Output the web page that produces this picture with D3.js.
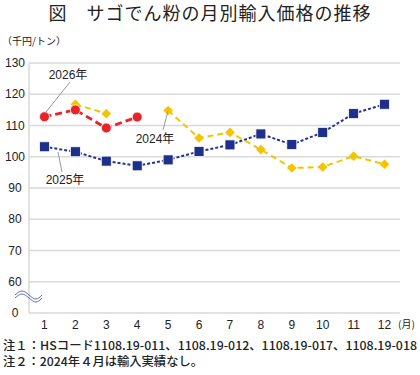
<!DOCTYPE html>
<html>
<head>
<meta charset="utf-8">
<script src="https://cdn.jsdelivr.net/npm/d3@7"></script>
<style>
body { margin: 0; background: #fff; }
text { font-family: "Liberation Sans", "Noto Sans CJK JP", sans-serif; fill: #222; }
.jp { font-family: "Noto Sans CJK JP", sans-serif; }
</style>
</head>
<body>
<div id="chart"></div>
<script>
var months = ["1", "2", "3", "4", "5", "6", "7", "8", "9", "10", "11", "12"];
var yTicks = [50, 60, 70, 80, 90, 100, 110, 120, 130];
var yTickLabels = ["0", "60", "70", "80", "90", "100", "110", "120", "130"];

var y2024 = [null, 116.8, 113.8, null, 114.8, 106.0, 107.8, 102.3, 96.4, 96.7, 100.2, 97.6];
var y2025 = [103.2, 101.6, 98.6, 97.1, 99.0, 101.7, 103.8, 107.3, 103.9, 107.8, 113.8, 116.8];
var y2026 = [112.8, 115.0, 109.2, 112.7];

var width = 420, height = 375;
var margin = {top: 63, right: 20, bottom: 64, left: 29};

var svg = d3.select("#chart").append("svg")
    .attr("width", width)
    .attr("height", height);

var x = d3.scaleBand()
    .domain(months)
    .range([margin.left, width - margin.right]);

var y = d3.scaleLinear()
    .domain([50, 130])
    .range([height - margin.bottom + 2, margin.top]);

function cx(i) { return x(months[i]) + x.bandwidth() / 2; }

// title
svg.append("text")
    .attr("class", "jp")
    .attr("x", 210).attr("y", 20)
    .attr("text-anchor", "middle")
    .style("font-size", "18px")
    .style("letter-spacing", "1px")
    .text("図　サゴでん粉の月別輸入価格の推移");

svg.append("text")
    .attr("class", "jp")
    .attr("x", 2).attr("y", 45)
    .style("font-size", "10px")
    .text("（千円/トン）");

// grid
svg.selectAll(".grid").data(yTicks.slice(1))
    .enter().append("line")
    .attr("class", "grid")
    .attr("x1", margin.left).attr("x2", width - margin.right)
    .attr("y1", function(d) { return y(d); })
    .attr("y2", function(d) { return y(d); })
    .attr("stroke", "#d9d9d9")
    .attr("stroke-width", 1.5);

// axes lines
svg.append("line")
    .attr("x1", margin.left).attr("x2", margin.left)
    .attr("y1", y(130)).attr("y2", y(50))
    .attr("stroke", "#d9d9d9").attr("stroke-width", 1.5);
svg.append("line")
    .attr("x1", margin.left).attr("x2", width - margin.right)
    .attr("y1", y(50)).attr("y2", y(50))
    .attr("stroke", "#d9d9d9").attr("stroke-width", 1.5);

// y labels
svg.selectAll(".ylab").data(yTicks)
    .enter().append("text")
    .attr("class", "ylab")
    .attr("x", 15)
    .attr("y", function(d) { return y(d) + 4; })
    .attr("text-anchor", "middle")
    .style("font-size", "12px")
    .text(function(d, i) { return yTickLabels[i]; });

// x labels
svg.selectAll(".xlab").data(months)
    .enter().append("text")
    .attr("class", "xlab")
    .attr("x", function(d, i) { return cx(i); })
    .attr("y", 329)
    .attr("text-anchor", "middle")
    .style("font-size", "12px")
    .text(function(d) { return d; });

svg.append("text")
    .attr("class", "jp")
    .attr("x", 398).attr("y", 328)
    .style("font-size", "10px")
    .text("(月)");

// break mark
var wave = d3.line().curve(d3.curveBasis);
[0, 3].forEach(function(off) {
    svg.append("path")
        .attr("d", wave([[15, 295 + off], [22, 289 + off], [29, 295 + off], [36, 301 + off], [42, 295 + off]]))
        .attr("fill", "none")
        .attr("stroke", "#5a6db0")
        .attr("stroke-width", 1);
});

// lines
function drawSeries(vals, color, dash, sw) {
    var pts = vals.map(function(v, i) { return v == null ? null : [cx(i), y(v)]; });
    var line = d3.line()
        .defined(function(d) { return d != null; })
        .x(function(d) { return d[0]; })
        .y(function(d) { return d[1]; });
    svg.append("path")
        .attr("d", line(pts))
        .attr("fill", "none")
        .attr("stroke", color)
        .attr("stroke-width", sw)
        .attr("stroke-dasharray", dash);
    return pts.filter(function(d) { return d != null; });
}

var p2024 = drawSeries(y2024, "#f5c400", "6,4", 2);
svg.selectAll(".m2024").data(p2024)
    .enter().append("path")
    .attr("class", "m2024")
    .attr("transform", function(d) { return "translate(" + d[0] + "," + d[1] + ")"; })
    .attr("d", d3.symbol().type(d3.symbolDiamond2).size(60))
    .attr("fill", "#f5c400");

var p2025 = drawSeries(y2025, "#23338f", "3,2", 2);
svg.selectAll(".m2025").data(p2025)
    .enter().append("rect")
    .attr("class", "m2025")
    .attr("x", function(d) { return d[0] - 5; })
    .attr("y", function(d) { return d[1] - 5; })
    .attr("width", 10).attr("height", 10)
    .attr("fill", "#1f2f8c")
    .attr("stroke", "#ffffff").attr("stroke-width", 0.8);

var p2026 = drawSeries(y2026, "#e8242a", "7,4", 2.8);
svg.selectAll(".m2026").data(p2026)
    .enter().append("circle")
    .attr("class", "m2026")
    .attr("cx", function(d) { return d[0]; })
    .attr("cy", function(d) { return d[1]; })
    .attr("r", 5)
    .attr("fill", "#e8242a")
    .attr("stroke", "#ffffff").attr("stroke-width", 0.8);

// series labels with leader lines
var labels = [
    {text: "2026年", x: 68, y: 79, lx1: 70, ly1: 82, lx2: 46, ly2: 112},
    {text: "2025年", x: 65, y: 184, lx1: 62, ly1: 172, lx2: 58, ly2: 152},
    {text: "2024年", x: 155, y: 143, lx1: 163, ly1: 130, lx2: 168, ly2: 111}
];
labels.forEach(function(l) {
    svg.append("line")
        .attr("x1", l.lx1).attr("y1", l.ly1)
        .attr("x2", l.lx2).attr("y2", l.ly2)
        .attr("stroke", "#999").attr("stroke-width", 1);
    svg.append("text")
        .attr("x", l.x).attr("y", l.y)
        .attr("text-anchor", "middle")
        .style("font-size", "12px")
        .text(l.text);
});

// notes
svg.append("text")
    .attr("class", "jp")
    .attr("x", 3).attr("y", 350)
    .attr("textLength", 414)
    .attr("lengthAdjust", "spacingAndGlyphs")
    .style("font-size", "12px")
    .style("font-weight", "500")
    .text("注１：HSコード1108.19-011、1108.19-012、1108.19-017、1108.19-018");
svg.append("text")
    .attr("class", "jp")
    .attr("x", 3).attr("y", 366)
    .attr("textLength", 200)
    .attr("lengthAdjust", "spacingAndGlyphs")
    .style("font-size", "12px")
    .style("font-weight", "500")
    .text("注２：2024年４月は輸入実績なし。");
</script>
</body>
</html>
